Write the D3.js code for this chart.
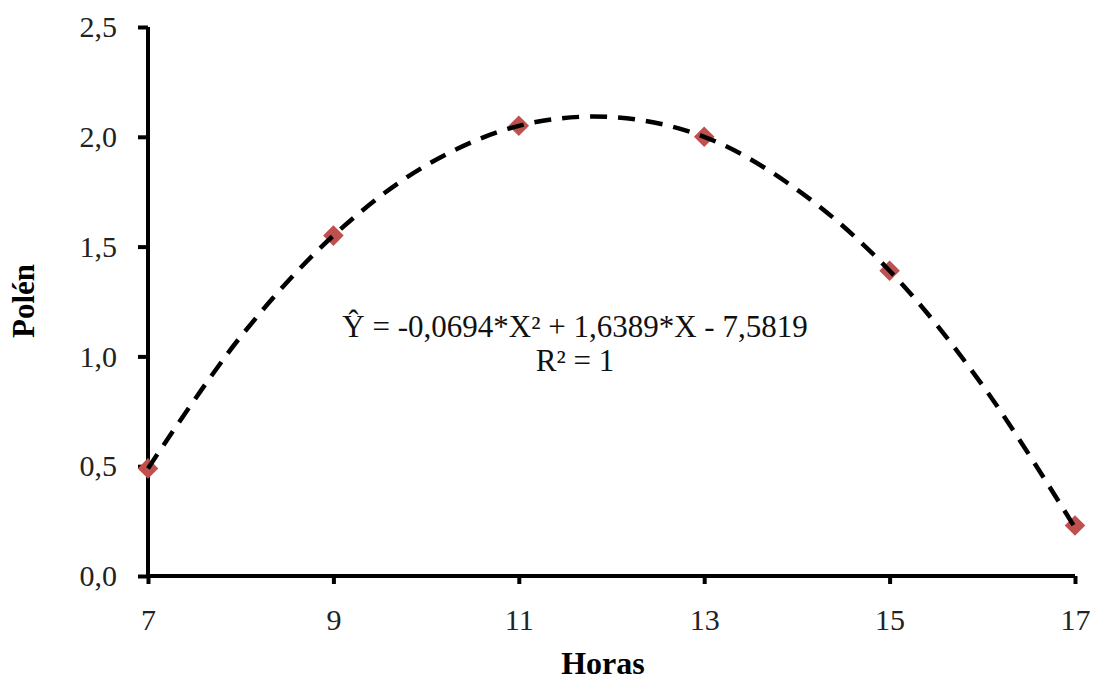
<!DOCTYPE html>
<html>
<head>
<meta charset="utf-8">
<script src="https://cdn.jsdelivr.net/npm/d3@7"></script>
<style>
  body { margin: 0; background: #fff; }
  text { font-family: "Liberation Serif", "Times New Roman", serif; }
</style>
</head>
<body>
<div id="chart"></div>
<script>
// observed values (hours vs pollen)
var hours = [7, 9, 11, 13, 15, 17];
var pollen = [0.49, 1.55, 2.05, 2.00, 1.39, 0.23];

// dashed trend curve at each hour
var trendHours = [7, 8, 9, 10, 11, 12, 13, 14, 15, 16, 17];
var trendValues = [0.49, 1.09, 1.55, 1.87, 2.05, 2.09, 2.00, 1.76, 1.39, 0.87, 0.22];

var xTicks = [7, 9, 11, 13, 15, 17];
var yTicks = [0, 0.5, 1.0, 1.5, 2.0, 2.5];

var equationText = "Ŷ = -0,0694*X² + 1,6389*X - 7,5819";
var r2Text = "R² = 1";

var w = 1095, h = 684;
var margin = { left: 148, right: 20, top: 27, bottom: 108 };

var svg = d3.select("#chart").append("svg")
    .attr("width", w)
    .attr("height", h);

var xScale = d3.scaleLinear()
    .domain([7, 17])
    .range([margin.left, 1075]);

var yScale = d3.scaleLinear()
    .domain([0, 2.5])
    .range([576, margin.top]);

var fmt = function(d) { return d3.format(".1f")(d).replace(".", ","); };

// y axis
var yAxis = svg.append("g")
    .attr("transform", "translate(" + margin.left + ",0)")
    .call(d3.axisLeft(yScale).tickValues(yTicks).tickSize(10).tickPadding(21).tickFormat(fmt));

// x axis
var xAxis = svg.append("g")
    .attr("transform", "translate(0,576)")
    .call(d3.axisBottom(xScale).tickValues(xTicks).tickSize(8).tickPadding(25).tickFormat(d3.format("d")));

[xAxis, yAxis].forEach(function(ax) {
    ax.attr("font-size", null).attr("font-family", null);
    ax.select(".domain").attr("stroke", "#000").attr("stroke-width", 4);
    ax.selectAll(".tick line").attr("stroke", "#000").attr("stroke-width", 4);
    ax.selectAll(".tick text")
        .attr("fill", "#222")
        .style("font-size", "30px");
});
// domain lines drawn without the outer tick hooks (ticks cover those)
yAxis.select(".domain").attr("d", "M0," + yScale(2.5) + "V" + (yScale(0) + 2));
xAxis.select(".domain").attr("d", "M" + (xScale(7) - 2) + ",0H" + xScale(17));

// trend line
var line = d3.line()
    .x(function(d, i) { return xScale(trendHours[i]); })
    .y(function(d) { return yScale(d); })
    .curve(d3.curveCatmullRom.alpha(0.5));

// markers
var diamond = d3.symbol().type(d3.symbolDiamond2).size(270);
svg.selectAll("path.pt")
    .data(pollen)
    .enter()
    .append("path")
    .attr("class", "pt")
    .attr("d", diamond)
    .attr("transform", function(d, i) {
        return "translate(" + xScale(hours[i]) + "," + yScale(d) + ")";
    })
    .attr("fill", "#C0504D");

svg.append("path")
    .datum(trendValues)
    .attr("d", line)
    .attr("fill", "none")
    .attr("stroke", "#000")
    .attr("stroke-width", 4.5)
    .attr("stroke-dasharray", "17,11");

// equation label
svg.append("text")
    .attr("x", 575)
    .attr("y", 337)
    .attr("text-anchor", "middle")
    .style("font-size", "31px")
    .attr("fill", "#111")
    .text(equationText);

svg.append("text")
    .attr("x", 575)
    .attr("y", 371)
    .attr("text-anchor", "middle")
    .style("font-size", "31px")
    .attr("fill", "#111")
    .text(r2Text);

// axis titles
svg.append("text")
    .attr("x", 603)
    .attr("y", 674)
    .attr("text-anchor", "middle")
    .style("font-size", "32px")
    .style("font-weight", "bold")
    .text("Horas");

svg.append("text")
    .attr("transform", "translate(34,301) rotate(-90)")
    .attr("text-anchor", "middle")
    .style("font-size", "31px")
    .style("font-weight", "bold")
    .text("Polén");
</script>
</body>
</html>
